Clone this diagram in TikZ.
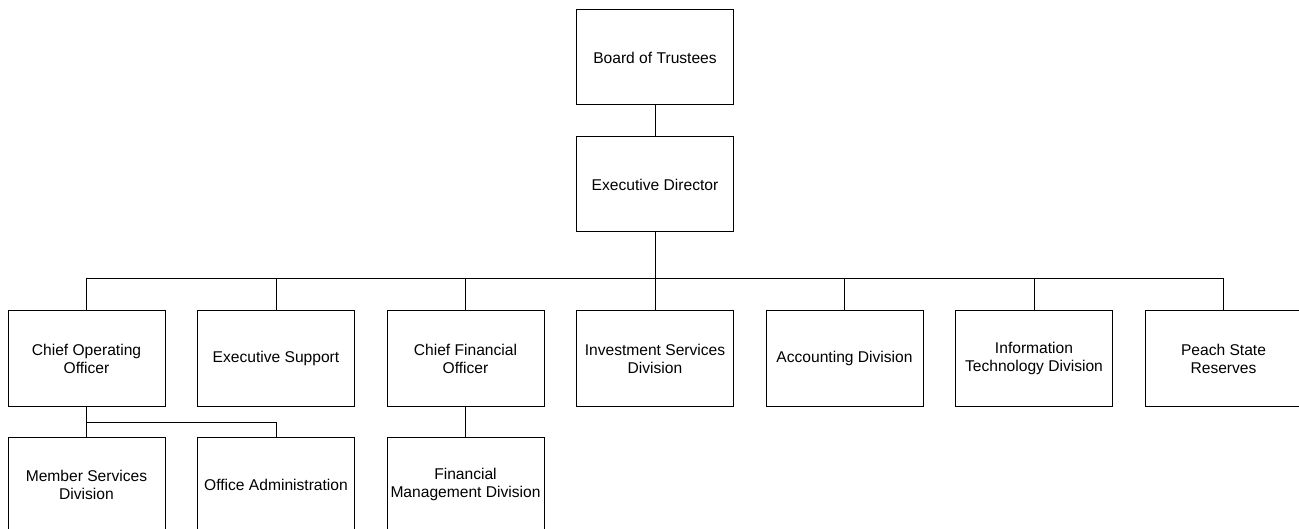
\documentclass[tikz,border=0pt]{standalone}
\usepackage{fontspec}
\setmainfont{Liberation Sans}
\usetikzlibrary{positioning}

\begin{document}
\begin{tikzpicture}[x=1pt, y=-1pt, line width=1pt, node distance=31.5pt,
		box/.style={draw, minimum width=157pt, minimum height=95pt, inner sep=0pt, align=center, font=\fontsize{15.6}{18}\selectfont}]
			\useasboundingbox (0,0) rectangle (1299,529);
			\node[box] (board) at (655,57.5) {Board of Trustees};
			\node[box] (exec) at (655,184.5) {Executive Director};

			\node[box] (coo) at (86.5,358.5) {Chief Operating\\Officer};
			\node[box] (support) [right=of coo] {Executive Support};
			\node[box] (cfo) [right=of support] {Chief Financial\\Officer};
			\node[box] (invest) [right=of cfo] {Investment Services\\Division};
			\node[box] (acct) [right=of invest] {Accounting Division};
			\node[box] (it) [right=of acct] {Information\\Technology Division};
			\node[box] (peach) [right=of it] {Peach State\\Reserves};

			\node[box] (member) at (86.5,484.5) {Member Services\\Division};
			\node[box] (office) [right=of member] {Office Administration};
			\node[box] (finmgmt) [right=of office] {Financial\\Management Division};

			\coordinate (bus) at (0,279);
			\coordinate (subbus) at (0,422);
			\draw (board) -- (exec);
			\draw (exec.south) -- (exec.south |- bus);
			\draw (coo.north) |- (peach.north |- bus) -- (peach.north);
			\foreach \n in {support,cfo,invest,acct,it}
				\draw (\n.north) -- (\n.north |- bus);
			\draw (coo.south) |- (office.north |- subbus) -- (office.north);
			\draw (member.north) -- (member.north |- subbus);
			\draw (cfo) -- (finmgmt);
		\end{tikzpicture}
\end{document}
